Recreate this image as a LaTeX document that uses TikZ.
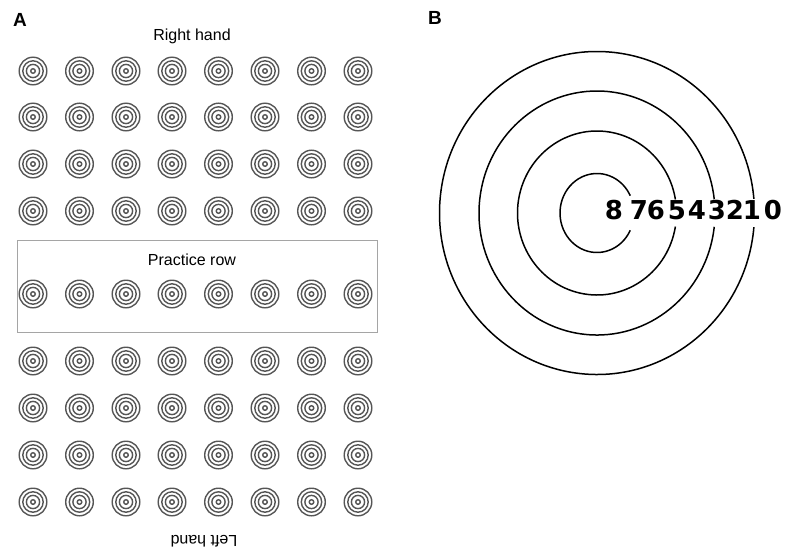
\documentclass[tikz,border=0pt]{standalone}
\usepackage{fontspec}
\setmainfont{Liberation Sans}
\newfontfamily\digitfont{DejaVu Sans}
\usetikzlibrary{positioning}
\definecolor{ringgray}{RGB}{85,85,85}
\definecolor{boxgray}{RGB}{165,165,165}

\begin{document}
\begin{tikzpicture}[x=1pt,y=-1pt,
    ring/.style={draw=ringgray,line width=1.4pt},
    bigring/.style={draw=black,line width=1.5pt},
    hand/.style={font=\fontsize{16}{18}\selectfont,inner sep=0pt},
    panel/.style={font=\fontsize{19}{21}\selectfont\bfseries,inner sep=0pt},
    digit/.style={font=\digitfont\fontsize{26}{28}\selectfont\bfseries,inner sep=0pt}]
  \useasboundingbox (0,0) rectangle (785,552);
  % panel A: the sheet of small targets
  \node[panel] (pa) at (20,20) {A};
  \node[hand] (right) at (192,36) {Right hand};
  \node[draw=boxgray,line width=0.8pt,minimum width=360,minimum height=92,inner sep=0pt] (practice) at (197,286) {};
  \node[hand] (prac) at (192,260) {Practice row};
  \node[hand,rotate=180] (left) at (204,541) {Left hand};
  \foreach \y in {71,117,164,211,294,361,408,455,502}
    \foreach \x in {33,79.5,126,172,218.5,265,311.5,358}
    {
      \draw[ring] (\x,\y) circle (13.8) (\x,\y) circle (10.2) (\x,\y) circle (6.6) (\x,\y) circle (2.3);
    }
  % panel B: the scored target
  \node[panel] (pb) at (435,18) {B};
  \coordinate (bull) at (597,213);
  \foreach \rx/\ry/\g in {37/39.5/26, 79.5/82/9.5, 118/122/6.5, 157.5/161.5/5}
    \draw[bigring] ([shift={({\rx*cos(\g)},{\ry*sin(\g)})}]bull)
      arc[start angle=\g, end angle=360-\g, x radius=\rx, y radius=\ry];
  \foreach \d/\x in {8/614,7/639,6/656,5/677,4/697,3/717,2/735,1/752,0/773}
    \node[digit] (n\d) at (\x,210) {\d};
\end{tikzpicture}
\end{document}
